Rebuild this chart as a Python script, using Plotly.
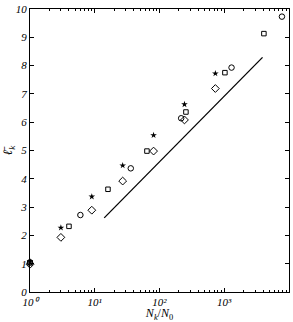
import plotly.graph_objects as go

# data
star_N = [1, 3, 9, 27, 81, 243, 729]
star_l = [1.08, 2.27, 3.37, 4.47, 5.54, 6.63, 7.72]
diam_N = [1, 3, 9, 27, 81, 243, 729]
diam_l = [0.98, 1.93, 2.89, 3.92, 4.98, 6.08, 7.19]
sq_N = [1, 4, 16, 64, 256, 1024, 4096]
sq_l = [1.03, 2.32, 3.63, 4.98, 6.36, 7.75, 9.13]
circ_N = [1, 6, 36, 216, 1296, 7776]
circ_l = [1.05, 2.72, 4.37, 6.14, 7.93, 9.73]
line_N = [14, 3900]
line_l = [2.62, 8.29]

x_tickvals = [1, 10, 100, 1000, 10000]
x_ticktext = ["10⁰", "10¹", "10²", "10³", "10⁴"]
y_tickvals = list(range(0, 11))
y_ticktext = [f"<i>{v}</i>" for v in y_tickvals]

minor_vals = [m * 10 ** k for k in range(4) for m in range(2, 10)]

fig = go.Figure()
fig.add_trace(go.Scatter(x=line_N, y=line_l, mode="lines",
                         line=dict(color="black", width=1.3), showlegend=False))
fig.add_trace(go.Scatter(x=sq_N, y=sq_l, mode="markers", cliponaxis=False,
                         marker=dict(symbol="square-open", size=4.5, color="black", line=dict(width=1)), showlegend=False))
fig.add_trace(go.Scatter(x=circ_N, y=circ_l, mode="markers", cliponaxis=False,
                         marker=dict(symbol="circle-open", size=5.5, color="black", line=dict(width=1)), showlegend=False))
fig.add_trace(go.Scatter(x=diam_N, y=diam_l, mode="markers", cliponaxis=False,
                         marker=dict(symbol="diamond-open", size=6, color="black", line=dict(width=1)), showlegend=False))
fig.add_trace(go.Scatter(x=star_N, y=star_l, mode="markers", cliponaxis=False,
                         marker=dict(symbol="star", size=5, color="black", line=dict(width=0)), showlegend=False))

tickfont = dict(family="Liberation Serif", size=11, color="black")
fig.update_layout(
    width=293, height=322,
    margin=dict(l=27, r=3, t=8, b=30),
    paper_bgcolor="white", plot_bgcolor="white",
    font=dict(family="Liberation Serif", color="black"),
    xaxis=dict(type="log", range=[0, 4], showgrid=False, zeroline=False,
               showline=True, linecolor="black", linewidth=1, mirror="ticks",
               ticks="inside", ticklen=4, tickcolor="black", ticklabelstandoff=0,
               tickvals=x_tickvals, ticktext=[f"<i>{t}</i>" for t in x_ticktext],
               tickfont=tickfont,
               minor=dict(tickvals=minor_vals, ticks="inside", ticklen=2, tickcolor="black", showgrid=False),
               title=dict(text="<i>N<sub>k</sub></i>/<i>N</i><sub>0</sub>", font=dict(size=12), standoff=1)),
    yaxis=dict(range=[0, 10], showgrid=False, zeroline=False,
               showline=True, linecolor="black", linewidth=1, mirror="ticks",
               ticks="inside", ticklen=4, tickcolor="black",
               tickvals=y_tickvals, ticktext=y_ticktext, tickfont=tickfont,
               title=dict(text="<i>ℓ̄<sub>k</sub></i>", font=dict(size=13), standoff=4)),
)
fig.write_html("out.html")
